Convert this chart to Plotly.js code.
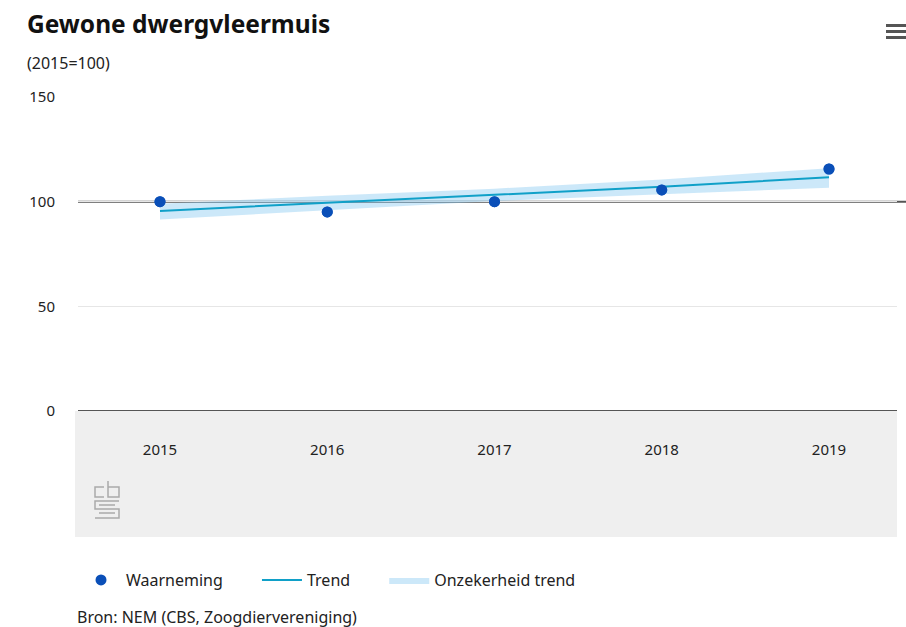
<!DOCTYPE html>
<html>
<head>
<meta charset="utf-8">
<script src="https://cdn.plot.ly/plotly-3.0.1.min.js"></script>
<style>html,body{margin:0;padding:0;background:#fff;}#chart{width:906px;height:627px;}</style>
</head>
<body>
<div id="chart"></div>
<script>
// ---- data ----
const years = [2015, 2016, 2017, 2018, 2019];
const waarneming = [100, 95.1, 100, 105.6, 115.6];
const trend = [95.6, 99.4, 103.2, 107.1, 111.7];
const trendLower = [91.5, 96.0, 100.3, 103.6, 106.6];
const trendUpper = [99.0, 102.8, 106.2, 110.6, 116.0];
const yTicks = [0, 50, 100, 150];
const seriesNames = ['Waarneming', 'Trend', 'Onzekerheid trend'];
const titleText = 'Gewone dwergvleermuis';
const subtitleText = '(2015=100)';
const sourceText = 'Bron: NEM (CBS, Zoogdiervereniging)';

// ---- layout geometry ----
const W = 906, H = 627;
const L = 78, R = 9, T = 97, B = 216;
const pw = W - L - R, ph = H - T - B;
const px = v => (v - L) / pw;
const py = v => (H - B - v) / ph;
const FONT = 'Noto Sans, sans-serif';
const pad1 = '&nbsp;&nbsp;&nbsp;&nbsp;&nbsp;&nbsp;&nbsp;';
const pad2 = '&nbsp;&nbsp;&nbsp;&nbsp;&nbsp;&nbsp;&nbsp;';

const traces = [
  {x: years, y: waarneming, type: 'scatter', mode: 'markers',
   marker: {size: 11, color: '#0a4fb8'}, name: seriesNames[0] + pad1, legendrank: 1},
  {x: years, y: trendLower, type: 'scatter', mode: 'lines', line: {width: 0, color: 'rgba(0,0,0,0)'},
   showlegend: false, hoverinfo: 'skip'},
  {x: years, y: trendUpper, type: 'scatter', mode: 'lines', line: {width: 0, color: 'rgba(0,0,0,0)'},
   fill: 'tonexty', fillcolor: 'rgba(120,195,240,0.38)', name: seriesNames[2], legendrank: 3},
  {x: years, y: trend, type: 'scatter', mode: 'lines', line: {width: 2, color: '#10a0c8'},
   name: seriesNames[1] + pad2, legendrank: 2},
  {x: years, y: waarneming, type: 'scatter', mode: 'markers',
   marker: {size: 11, color: '#0a4fb8'}, showlegend: false, hoverinfo: 'skip'}
];

const shapes = [
  {type: 'rect', xref: 'paper', yref: 'paper', x0: px(75), x1: px(897), y0: py(411), y1: py(537),
   fillcolor: '#efefef', line: {width: 0}, layer: 'below'},
  {type: 'line', xref: 'paper', yref: 'y', x0: 0, x1: px(906), y0: 100, y1: 100,
   line: {color: '#555555', width: 2}, layer: 'below'},
  {type: 'line', xref: 'paper', yref: 'y', x0: 0, x1: 1, y0: 0, y1: 0,
   line: {color: '#555555', width: 2}},
  {type: 'rect', xref: 'paper', yref: 'paper', x0: px(886), x1: px(906), y0: py(24), y1: py(27), fillcolor: '#555', line: {width: 0}},
  {type: 'rect', xref: 'paper', yref: 'paper', x0: px(886), x1: px(906), y0: py(30), y1: py(33), fillcolor: '#555', line: {width: 0}},
  {type: 'rect', xref: 'paper', yref: 'paper', x0: px(886), x1: px(906), y0: py(36), y1: py(39), fillcolor: '#555', line: {width: 0}},
  {type: 'path', xref: 'paper', yref: 'paper', line: {color: '#aaaaaa', width: 1.5},
   path: `M ${px(104)} ${py(487)} L ${px(95)} ${py(487)} L ${px(95)} ${py(497)} L ${px(104)} ${py(497)}`},
  {type: 'path', xref: 'paper', yref: 'paper', line: {color: '#aaaaaa', width: 1.5},
   path: `M ${px(108)} ${py(481)} L ${px(108)} ${py(497)} L ${px(119)} ${py(497)} L ${px(119)} ${py(487)} L ${px(108)} ${py(487)}`},
  {type: 'path', xref: 'paper', yref: 'paper', line: {color: '#aaaaaa', width: 1.5},
   path: `M ${px(119)} ${py(501)} L ${px(95)} ${py(501)} L ${px(95)} ${py(509)} L ${px(119)} ${py(509)} L ${px(119)} ${py(518)} L ${px(95)} ${py(518)}`},
  {type: 'path', xref: 'paper', yref: 'paper', line: {color: '#aaaaaa', width: 1.5},
   path: `M ${px(99)} ${py(505)} L ${px(115)} ${py(505)} M ${px(99)} ${py(513)} L ${px(115)} ${py(513)}`}
];

const annotations = [
  {text: '<b>' + titleText + '</b>', xref: 'paper', yref: 'paper', x: px(25), y: py(24),
   xanchor: 'left', yanchor: 'middle', showarrow: false, font: {family: FONT, size: 24.5, color: '#111'}},
  {text: subtitleText, xref: 'paper', yref: 'paper', x: px(25), y: py(63),
   xanchor: 'left', yanchor: 'middle', showarrow: false, font: {family: FONT, size: 16, color: '#222'}},
  {text: sourceText, xref: 'paper', yref: 'paper', x: px(75), y: py(617),
   xanchor: 'left', yanchor: 'middle', showarrow: false, font: {family: FONT, size: 16, color: '#222'}}
];

const layout = {
  width: W, height: H,
  margin: {l: L, r: R, t: T, b: B, pad: 0},
  paper_bgcolor: '#ffffff', plot_bgcolor: 'rgba(0,0,0,0)',
  font: {family: FONT, size: 15, color: '#222'},
  showlegend: true,
  legend: {orientation: 'h', traceorder: 'normal', x: px(76), y: py(580), xanchor: 'left', yanchor: 'middle',
           font: {family: FONT, size: 16, color: '#222'}, itemwidth: 40,
           bgcolor: 'rgba(0,0,0,0)'},
  xaxis: {range: [2015 - 82 / 167.25, 2019 + 68 / 167.25], tickvals: years, ticktext: years.map(String),
          showgrid: false, zeroline: false, showline: false, ticks: '', ticklabelstandoff: 28,
          tickfont: {family: FONT, size: 15, color: '#222'}, fixedrange: true},
  yaxis: {range: [0, 150], tickvals: yTicks, showgrid: true, gridcolor: '#e6e6e6', gridwidth: 1,
          zeroline: false, showline: false, ticks: '', ticklabelstandoff: 22,
          tickfont: {family: FONT, size: 15, color: '#222'}, fixedrange: true},
  shapes: shapes,
  annotations: annotations
};

Plotly.newPlot('chart', traces, layout, {displayModeBar: false, staticPlot: true});
</script>
</body>
</html>
